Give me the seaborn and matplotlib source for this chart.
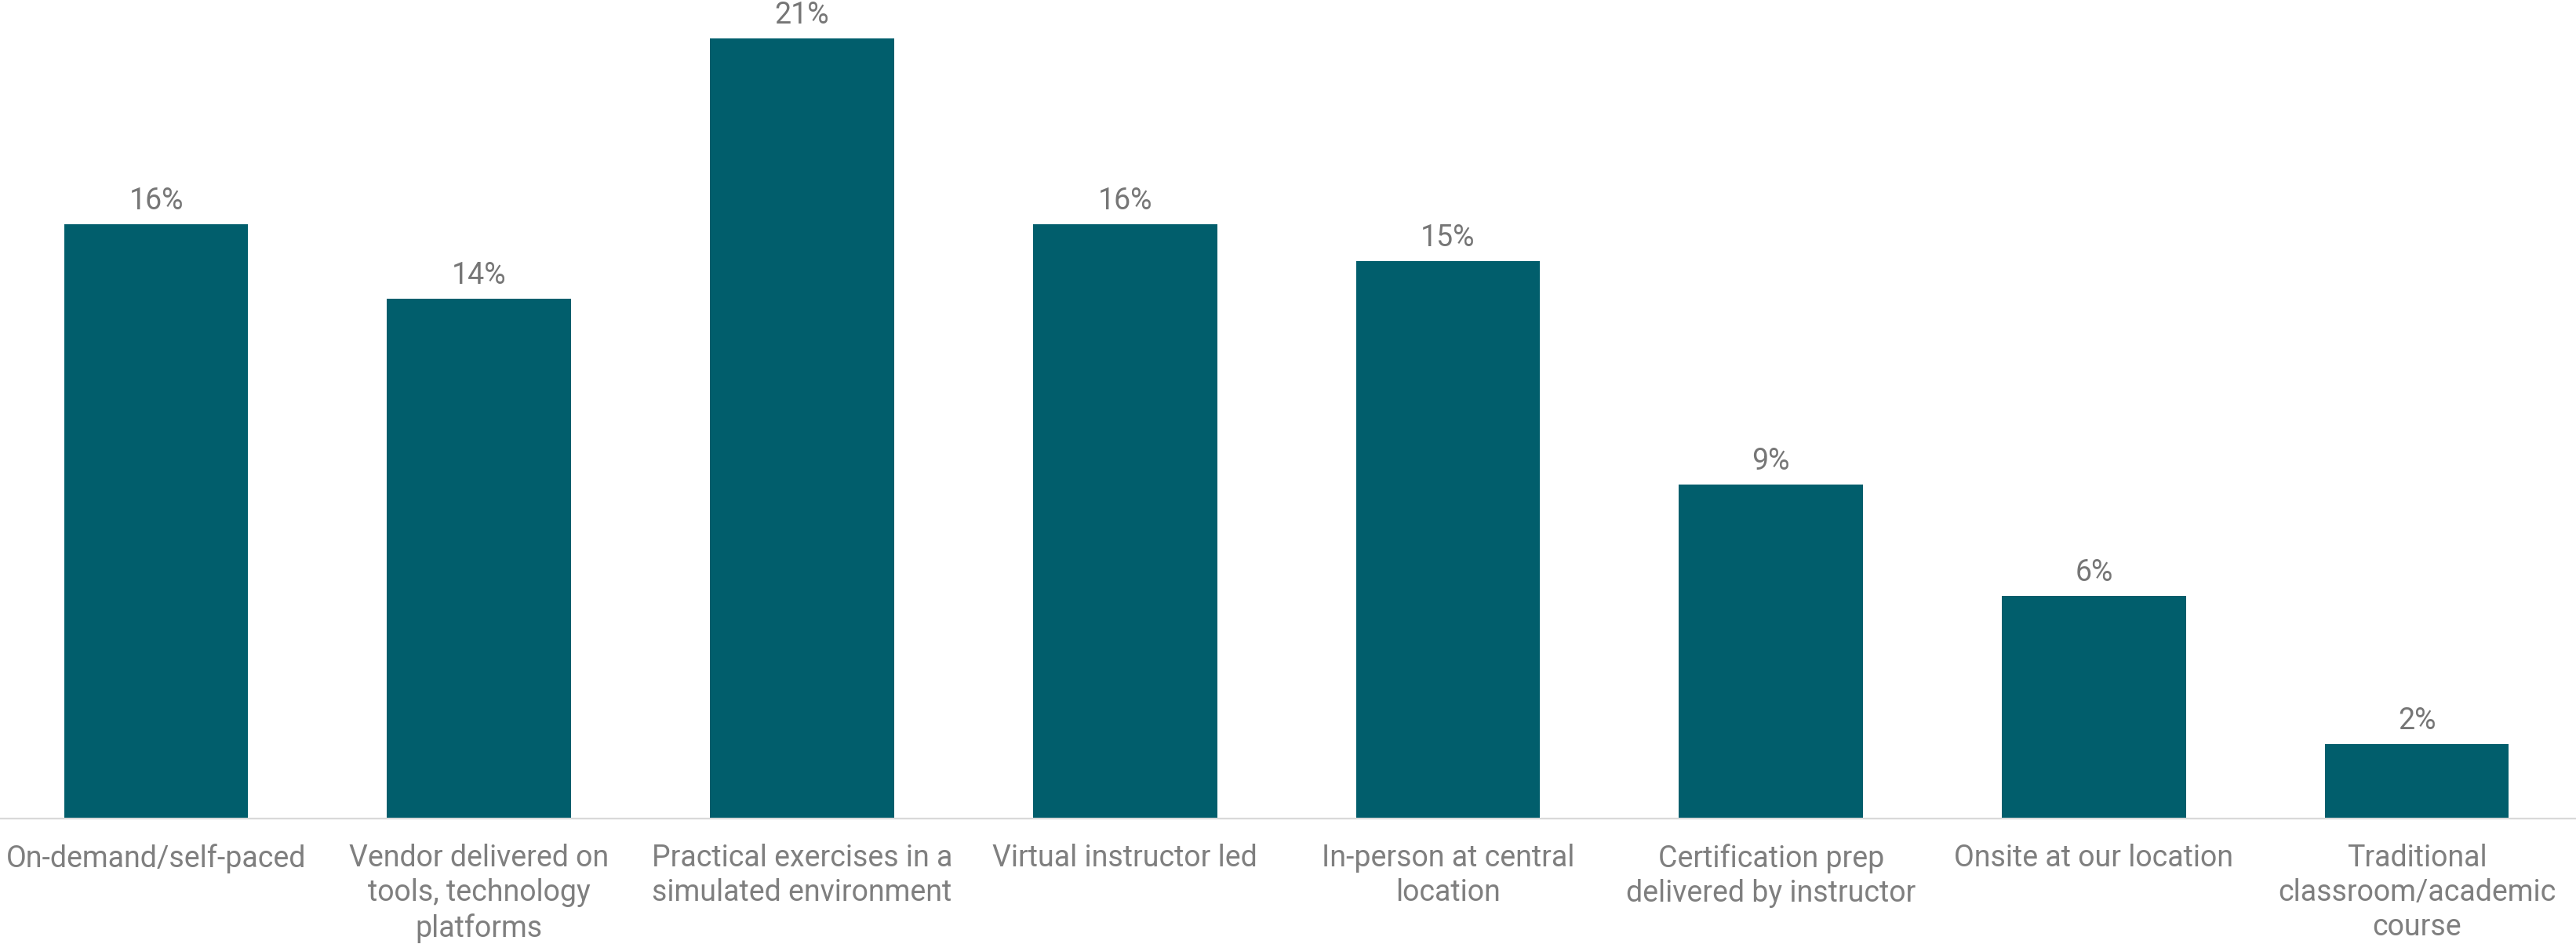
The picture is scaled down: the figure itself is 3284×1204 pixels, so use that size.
import matplotlib
matplotlib.use("Agg")
import matplotlib.pyplot as plt
import seaborn as sns
import pandas as pd

categories = [
    "On-demand/self-paced",
    "Vendor delivered on\ntools, technology\nplatforms",
    "Practical exercises in a\nsimulated environment",
    "Virtual instructor led",
    "In-person at central\nlocation",
    "Certification prep\ndelivered by instructor",
    "Onsite at our location",
    "Traditional\nclassroom/academic\ncourse",
]
shares = [16, 14, 21, 16, 15, 9, 6, 2]

sns.set_theme(style="white")
plt.rcParams["font.family"] = ["Roboto", "DejaVu Sans"]

df = pd.DataFrame({"format": categories, "share": shares})

fig = plt.figure(figsize=(32.84, 12.04), dpi=100)
ax = fig.add_axes([0, 0.1329, 1, 0.8671])

sns.barplot(data=df, x="format", y="share", color="#015e6c", width=0.57,
            saturation=1, ax=ax, edgecolor="none")

ax.set_xlim(-0.4835, 7.4927)
ax.set_ylim(0, 22.04)
ax.set_xlabel("")
ax.set_ylabel("")
ax.set_yticks([])

for side in ["top", "right", "left"]:
    ax.spines[side].set_visible(False)
ax.spines["bottom"].set_color("#d9d9d9")
ax.spines["bottom"].set_linewidth(1.6)

ax.tick_params(axis="x", length=0, pad=23, labelsize=27, labelcolor="#7f7f7f")
for lbl in ax.get_xticklabels():
    lbl.set_linespacing(1.25)

for container in ax.containers:
    labels = ax.bar_label(container, labels=[f"{v}%" for v in shares],
                          padding=8, fontsize=27, color="#767676")
    for t in labels:
        t.set_clip_on(False)

fig.savefig("out.png", dpi=100, facecolor="white")
